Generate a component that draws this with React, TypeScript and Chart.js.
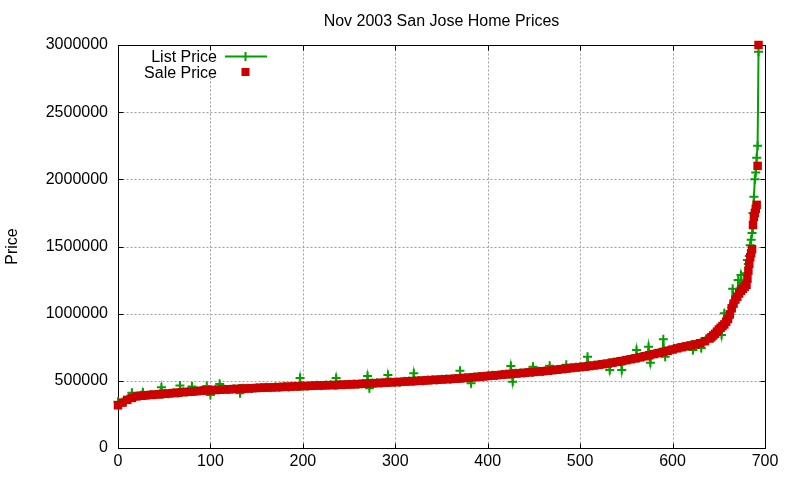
import React, { useEffect, useRef } from "react";
import { Chart, registerables } from "chart.js";

Chart.register(...registerables);

const titleText = "Nov 2003 San Jose Home Prices";
const yAxisTitle = "Price";
const seriesNames = ["List Price", "Sale Price"];
const xTicks = [0, 100, 200, 300, 400, 500, 600, 700];
const yTicks = [0, 500000, 1000000, 1500000, 2000000, 2500000, 3000000];

const saleIndex = [
  0, 5, 10, 15, 20, 25, 30, 35, 40, 45,
  50, 55, 60, 65, 70, 75, 80, 85, 90, 95,
  100, 105, 110, 115, 120, 125, 130, 135, 140, 145,
  150, 155, 160, 165, 170, 175, 180, 185, 190, 195,
  200, 205, 210, 215, 220, 225, 230, 235, 240, 245,
  250, 255, 260, 265, 270, 275, 280, 285, 290, 295,
  300, 305, 310, 315, 320, 325, 330, 335, 340, 345,
  350, 355, 360, 365, 370, 375, 380, 385, 390, 395,
  400, 405, 410, 415, 420, 425, 430, 435, 440, 445,
  450, 455, 460, 465, 470, 475, 480, 485, 490, 495,
  500, 505, 510, 515, 520, 525, 530, 535, 540, 545,
  550, 555, 560, 565, 570, 575, 580, 585, 590, 595,
  600, 605, 610, 615, 620, 625, 630, 635,
  640, 642, 644, 646, 648, 650, 652, 654, 656, 658,
  660, 662, 664, 666, 668, 670, 672, 674, 676, 678, 680,
  681, 682, 683, 684, 685, 686, 687, 688, 689, 690, 691, 692, 693,
];

const salePrice = [
  318000, 338000, 358000, 373000, 384000, 389000, 392000, 395000, 398000, 400000,
  403000, 406000, 409000, 412000, 415000, 418000, 420000, 423000, 426000, 428000,
  430000, 432000, 434000, 436000, 437000, 439000, 440000, 442000, 443000, 445000,
  447000, 448000, 450000, 451000, 452000, 454000, 455000, 457000, 458000, 460000,
  461000, 462000, 463000, 465000, 466000, 467000, 468000, 469000, 470000, 472000,
  473000, 474000, 476000, 478000, 480000, 481000, 483000, 485000, 487000, 489000,
  490000, 492000, 494000, 496000, 498000, 500000, 502000, 504000, 506000, 508000,
  510000, 512000, 514000, 516000, 518000, 521000, 524000, 527000, 530000, 533000,
  536000, 539000, 542000, 545000, 548000, 551000, 554000, 557000, 560000, 563000,
  566000, 569000, 572000, 575000, 579000, 583000, 587000, 591000, 595000, 599000,
  602000, 606000, 610000, 614000, 619000, 624000, 629000, 635000, 641000, 647000,
  654000, 661000, 668000, 675000, 683000, 691000, 699000, 707000, 715000, 724000,
  733000, 742000, 750000, 757000, 764000, 771000, 780000, 795000,
  815000, 825000, 838000, 850000, 866000, 882000, 895000, 908000, 920000, 940000,
  960000, 995000, 1040000, 1075000, 1105000, 1126000, 1150000, 1170000, 1185000, 1200000, 1215000,
  1260000, 1320000, 1370000, 1420000, 1450000, 1480000, 1660000, 1720000, 1750000, 1780000, 1810000, 2100000, 3000000,
];

const listIndex = [
  0, 5, 10, 14, 15, 16, 20, 25, 26, 27, 28, 30, 35, 40, 45, 46, 47, 48, 50, 55,
  60, 65, 66, 67, 68, 70, 75, 79, 80, 81, 85, 90, 95, 96, 97, 99, 100, 101, 105, 109,
  110, 111, 115, 120, 125, 130, 131, 132, 133, 135, 140, 145, 150, 155, 160, 165, 170, 175, 180, 185,
  190, 195, 196, 197, 198, 200, 205, 210, 215, 220, 225, 230, 235, 236, 237, 240, 245, 250, 255, 260,
  265, 269, 270, 271, 272, 273, 275, 280, 285, 290, 291, 292, 293, 295, 300, 305, 310, 315, 319, 320,
  321, 325, 330, 335, 340, 345, 350, 355, 360, 365, 369, 370, 371, 375, 380, 381, 382, 383, 385, 390,
  395, 400, 405, 410, 415, 420, 424, 425, 426, 427, 428, 430, 435, 440, 445, 448, 449, 450, 455, 460,
  465, 466, 467, 468, 470, 475, 480, 484, 485, 486, 490, 495, 500, 505, 507, 508, 509, 510, 515, 520,
  525, 530, 531, 532, 533, 535, 540, 544, 545, 546, 550, 555, 560, 561, 562, 565, 570, 573, 574, 575,
  576, 577, 580, 585, 589, 590, 591, 592, 593, 595, 600, 605, 610, 615, 620, 621, 622, 623, 625, 630,
  631, 632, 635, 640, 642, 644, 646, 648, 650, 652, 653, 654, 656, 658, 660, 662, 664, 665, 666, 668,
  670, 671, 672, 674, 676, 678, 680, 681, 682, 683, 684, 685, 686, 687, 688, 689, 690, 691, 692, 693,
];

const listPrice = [
  345000, 342000, 362000, 375000, 412000, 378000, 388000, 392000, 392000, 414000, 393000, 390000, 398000, 396000, 404000, 401000, 452000, 402000, 405000, 404000,
  412000, 410000, 413000, 466000, 414000, 418000, 416000, 420000, 458000, 421000, 425000, 428000, 430000, 462000, 429000, 430000, 395000, 431000, 434000, 434000,
  476000, 435000, 438000, 435000, 441000, 438000, 441000, 407000, 442000, 444000, 445000, 443000, 449000, 450000, 452000, 449000, 455000, 452000, 457000, 455000,
  460000, 458000, 460000, 521000, 461000, 463000, 460000, 465000, 467000, 464000, 469000, 470000, 467000, 521000, 469000, 472000, 470000, 475000, 476000, 474000,
  480000, 480000, 536000, 481000, 444000, 481000, 483000, 485000, 483000, 489000, 488000, 543000, 489000, 491000, 492000, 490000, 496000, 498000, 497000, 556000,
  499000, 502000, 500000, 506000, 508000, 506000, 512000, 514000, 512000, 518000, 518000, 575000, 519000, 523000, 522000, 524000, 482000, 525000, 529000, 532000,
  531000, 538000, 541000, 540000, 547000, 550000, 550000, 610000, 552000, 494000, 553000, 556000, 559000, 558000, 565000, 565000, 605000, 566000, 571000, 570000,
  577000, 576000, 612000, 578000, 581000, 585000, 589000, 590000, 620000, 592000, 597000, 601000, 604000, 607000, 608000, 680000, 609000, 612000, 616000, 621000,
  626000, 631000, 631000, 580000, 632000, 637000, 643000, 646000, 580000, 648000, 656000, 663000, 670000, 730000, 670000, 677000, 685000, 689000, 754000, 690000,
  635000, 692000, 701000, 709000, 714000, 809000, 716000, 680000, 718000, 726000, 735000, 744000, 752000, 759000, 766000, 767000, 730000, 768000, 773000, 782000,
  744000, 786000, 797000, 817000, 827000, 840000, 852000, 868000, 884000, 893000, 841000, 910000, 1003000, 942000, 962000, 997000, 1045000, 1185000, 1080000, 1108000,
  1130000, 1250000, 1152000, 1288000, 1200000, 1240000, 1300000, 1400000, 1370000, 1430000, 1510000, 1550000, 1600000, 1750000, 1870000, 2000000, 2050000, 2160000, 2250000, 2950000,
];

const GREEN = "#00a000";
const RED = "#cc0000";
const GRID = "#a0a0a0";
const FONT = '"Liberation Sans", Arial, Helvetica, sans-serif';

const framePlugin = {
  id: "gnuFrame",
  beforeDatasetsDraw(chart: any) {
    const { ctx, chartArea: a, scales } = chart;
    const xs = scales.x;
    const ys = scales.y;
    const L = Math.round(a.left) + 0.5;
    const R = Math.round(a.right) + 0.5;
    const T = Math.round(a.top) + 0.5;
    const B = Math.round(a.bottom) + 0.5;
    ctx.save();
    // dashed grid
    ctx.strokeStyle = GRID;
    ctx.lineWidth = 1;
    ctx.setLineDash([2, 2]);
    ctx.beginPath();
    xTicks.forEach((v) => {
      if (v === xTicks[0] || v === xTicks[xTicks.length - 1]) return;
      const px = Math.round(xs.getPixelForValue(v)) + 0.5;
      ctx.moveTo(px, T);
      ctx.lineTo(px, B);
    });
    yTicks.forEach((v) => {
      if (v === yTicks[0] || v === yTicks[yTicks.length - 1]) return;
      const py = Math.round(ys.getPixelForValue(v)) + 0.5;
      ctx.moveTo(L, py);
      ctx.lineTo(R, py);
    });
    ctx.stroke();
    ctx.setLineDash([]);
    // opaque key box
    ctx.fillStyle = "#ffffff";
    ctx.fillRect(a.left + 17, a.top + 4, 140, 29);
    // border
    ctx.strokeStyle = "#000000";
    ctx.lineWidth = 1;
    ctx.strokeRect(L, T, R - L, B - T);
    // inward ticks on all sides
    const tl = 5;
    ctx.beginPath();
    xTicks.forEach((v) => {
      const px = Math.round(xs.getPixelForValue(v)) + 0.5;
      ctx.moveTo(px, B);
      ctx.lineTo(px, B - tl);
      ctx.moveTo(px, T);
      ctx.lineTo(px, T + tl);
    });
    yTicks.forEach((v) => {
      const py = Math.round(ys.getPixelForValue(v)) + 0.5;
      ctx.moveTo(L, py);
      ctx.lineTo(L + tl, py);
      ctx.moveTo(R, py);
      ctx.lineTo(R - tl, py);
    });
    ctx.stroke();
    // title
    ctx.fillStyle = "#000000";
    ctx.font = `16px ${FONT}`;
    ctx.textAlign = "center";
    ctx.textBaseline = "alphabetic";
    ctx.fillText(titleText, (a.left + a.right) / 2, 26);
    // y axis label
    ctx.save();
    ctx.translate(17, (a.top + a.bottom) / 2);
    ctx.rotate(-Math.PI / 2);
    ctx.textAlign = "center";
    ctx.fillText(yAxisTitle, 0, 0);
    ctx.restore();
    ctx.restore();
  },
  afterDatasetsDraw(chart: any) {
    const { ctx, chartArea: a } = chart;
    const textRight = a.left + 99;
    const row1 = a.top + 11.5;
    const row2 = a.top + 27;
    const sx = a.left + 127.5;
    ctx.save();
    ctx.fillStyle = "#000000";
    ctx.font = `16px ${FONT}`;
    ctx.textAlign = "right";
    ctx.textBaseline = "alphabetic";
    ctx.fillText(seriesNames[0], textRight, row1 + 5.5);
    ctx.fillText(seriesNames[1], textRight, row2 + 5.5);
    ctx.strokeStyle = GREEN;
    ctx.lineWidth = 2;
    ctx.beginPath();
    ctx.moveTo(a.left + 107, row1);
    ctx.lineTo(a.left + 149, row1);
    ctx.moveTo(sx, row1 - 4.5);
    ctx.lineTo(sx, row1 + 4.5);
    ctx.stroke();
    ctx.fillStyle = RED;
    ctx.fillRect(sx - 4, row2 - 4, 8, 8);
    ctx.restore();
  },
};

export default function App() {
  const ref = useRef<HTMLCanvasElement | null>(null);

  useEffect(() => {
    document.body.style.margin = "0";
    const canvas = ref.current;
    if (!canvas) return;

    const tickFont = { family: FONT, size: 16 };

    const chart = new Chart(canvas, {
      type: "line",
      data: {
        datasets: [
          {
            label: seriesNames[0],
            data: listIndex.map((x, i) => ({ x, y: listPrice[i] })),
            borderColor: GREEN,
            backgroundColor: GREEN,
            borderWidth: 2,
            showLine: true,
            tension: 0,
            pointStyle: "cross",
            pointRadius: 4.5,
            pointHoverRadius: 4.5,
            pointBorderWidth: 2,
            pointBorderColor: GREEN,
            order: 1,
            clip: false,
          } as any,
          {
            label: seriesNames[1],
            data: saleIndex.map((x, i) => ({ x, y: salePrice[i] })),
            borderColor: RED,
            backgroundColor: RED,
            showLine: false,
            pointStyle: "rect",
            pointRadius: 6,
            pointHoverRadius: 6,
            pointBorderWidth: 0,
            pointBackgroundColor: RED,
            order: 0,
            clip: false,
          } as any,
        ],
      },
      options: {
        responsive: false,
        animation: false,
        devicePixelRatio: 1,
        events: [],
        layout: { padding: { top: 45, right: 35, bottom: 0, left: 0 } },
        plugins: {
          legend: { display: false },
          title: { display: false },
          tooltip: { enabled: false },
        },
        scales: {
          x: {
            type: "linear",
            min: 0,
            max: 700,
            afterBuildTicks: (s: any) => {
              s.ticks = xTicks.map((v) => ({ value: v }));
            },
            afterFit: (s: any) => {
              s.height = 32;
            },
            ticks: {
              font: tickFont,
              color: "#000000",
              padding: 4,
              maxRotation: 0,
              autoSkip: false,
              callback: (v: any) => String(v),
            },
            grid: { display: false, drawTicks: false },
            border: { display: false },
          },
          y: {
            type: "linear",
            min: 0,
            max: 3000000,
            afterBuildTicks: (s: any) => {
              s.ticks = yTicks.map((v) => ({ value: v }));
            },
            afterFit: (s: any) => {
              s.width = 118;
            },
            ticks: {
              font: tickFont,
              color: "#000000",
              padding: 10,
              autoSkip: false,
              callback: (v: any) => String(v),
            },
            grid: { display: false, drawTicks: false },
            border: { display: false },
          },
        },
      } as any,
      plugins: [framePlugin],
    });

    return () => {
      chart.destroy();
    };
  }, []);

  return (
    <div style={{ width: 800, height: 480 }}>
      <canvas ref={ref} width={800} height={480} style={{ display: "block" }} />
    </div>
  );
}
